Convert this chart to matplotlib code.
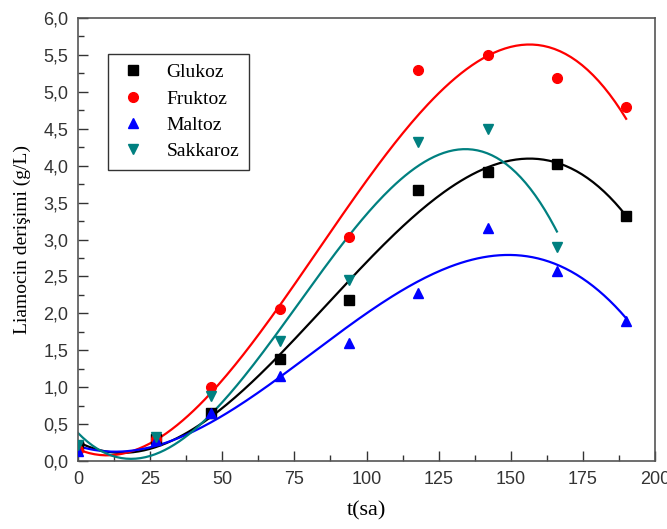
import matplotlib
matplotlib.use("Agg")
import matplotlib.pyplot as plt
import numpy as np
from matplotlib.ticker import MultipleLocator, FuncFormatter

# measured time points (h)
t = [0, 27, 46, 70, 94, 118, 142, 166, 190]
t_sak = [0, 27, 46, 70, 94, 118, 142, 166]

glukoz = [0.20, 0.30, 0.65, 1.38, 2.18, 3.67, 3.92, 4.02, 3.32]
fruktoz = [0.15, 0.30, 1.00, 2.06, 3.03, 5.30, 5.50, 5.19, 4.79]
maltoz = [0.13, 0.28, 0.65, 1.15, 1.60, 2.27, 3.15, 2.57, 1.90]
sakkaroz = [0.22, 0.33, 0.88, 1.62, 2.45, 4.32, 4.50, 2.90]

series = [
    ("Glukoz", t, glukoz, "black", "s"),
    ("Fruktoz", t, fruktoz, "red", "o"),
    ("Maltoz", t, maltoz, "blue", "^"),
    ("Sakkaroz", t_sak, sakkaroz, "#008080", "v"),
]

fig = plt.figure(figsize=(6.67, 5.29), dpi=100)
ax = fig.add_axes([0.117, 0.1285, 0.865, 0.8375])

for name, x, y, col, mk in series:
    ax.plot(x, y, linestyle="none", marker=mk, color=col, markersize=7,
            label=name, zorder=3)
    # cubic polynomial fit, as in the original
    c = np.polyfit(x, y, 3)
    xs = np.linspace(min(x), max(x), 200)
    ax.plot(xs, np.polyval(c, xs), color=col, lw=1.6, zorder=2)

ax.set_xlim(0, 200)
ax.set_ylim(0, 6)
ax.xaxis.set_major_locator(MultipleLocator(25))
ax.xaxis.set_minor_locator(MultipleLocator(12.5))
ax.yaxis.set_major_locator(MultipleLocator(0.5))
ax.yaxis.set_minor_locator(MultipleLocator(0.25))
ax.yaxis.set_major_formatter(FuncFormatter(lambda v, p: f"{v:.1f}".replace(".", ",")))
ax.tick_params(which="both", direction="in", top=False, right=False,
               labelsize=13, colors="#333333", labelcolor="#333333")
ax.tick_params(which="major", length=7, width=1, pad=7)
ax.tick_params(which="minor", length=4, width=1)
for lab in ax.get_xticklabels() + ax.get_yticklabels():
    lab.set_family("Liberation Sans")
for s in ax.spines.values():
    s.set_color("#555555")
    s.set_linewidth(1.2)

ax.set_xlabel("t(sa)", family="Liberation Serif", fontsize=16, labelpad=10)
ax.set_ylabel("Liamocin derişimi (g/L)", family="Liberation Serif", fontsize=14,
              labelpad=9)

leg = ax.legend(loc="upper left", bbox_to_anchor=(0.052, 0.919), frameon=True,
                fancybox=False, edgecolor="black", prop={"family": "Liberation Serif", "size": 14},
                handletextpad=0.9, borderpad=0.5, labelspacing=0.45, handlelength=1.6,
                borderaxespad=0)
leg.get_frame().set_linewidth(1.0)
for h in leg.legend_handles:
    h.set_markersize(7)

fig.savefig("out.png", dpi=100)
